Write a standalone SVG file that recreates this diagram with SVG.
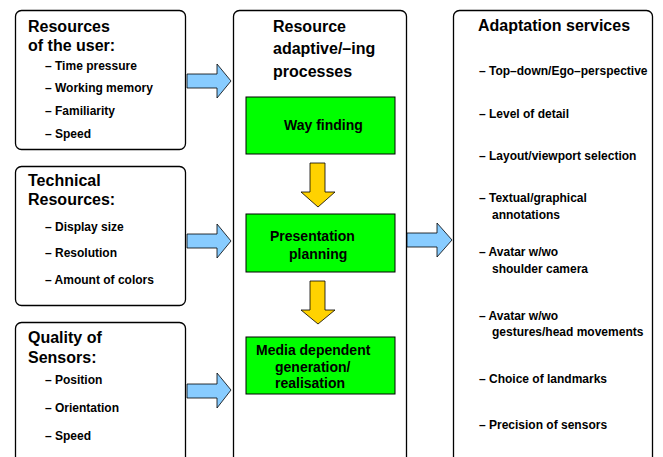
<svg xmlns="http://www.w3.org/2000/svg" width="663" height="457" viewBox="0 0 663 457">
<style>
.box{fill:#fff;stroke:#000;stroke-width:1.3}
.green{fill:#00ff00;stroke:#000;stroke-width:1}
.blue{fill:#88ccff;stroke:#000;stroke-width:0.8}
.yellow{fill:#ffd200;stroke:#000;stroke-width:0.8}
text{font-family:"Liberation Sans",Arial,sans-serif;font-weight:bold;fill:#000}
.t{font-size:16px}
.i{font-size:12px}
.g{font-size:14px}
</style>
<rect width="663" height="457" fill="#fff"/>
<g id="user">
<rect class="box" x="15.5" y="10.5" width="170" height="139" rx="6"/>
<text class="t" x="28" y="32">Resources</text>
<text class="t" x="28" y="51">of the user:</text>
<text class="i" x="45" y="70">– Time pressure</text>
<text class="i" x="45" y="92">– Working memory</text>
<text class="i" x="45" y="115">– Familiarity</text>
<text class="i" x="45" y="138">– Speed</text>
</g>
<g id="technical">
<rect class="box" x="15.5" y="166.5" width="170" height="139" rx="6"/>
<text class="t" x="28" y="186">Technical</text>
<text class="t" x="28" y="205">Resources:</text>
<text class="i" x="45" y="231">– Display size</text>
<text class="i" x="45" y="257">– Resolution</text>
<text class="i" x="45" y="284">– Amount of colors</text>
</g>
<g id="sensors">
<rect class="box" x="15.5" y="322.5" width="170" height="150" rx="6"/>
<text class="t" x="28" y="343">Quality of</text>
<text class="t" x="28" y="363">Sensors:</text>
<text class="i" x="45" y="384">– Position</text>
<text class="i" x="45" y="412">– Orientation</text>
<text class="i" x="45" y="440">– Speed</text>
</g>
<g id="processes">
<rect class="box" x="233.5" y="10.5" width="173" height="465" rx="6"/>
<text class="t" x="273" y="32">Resource</text>
<text class="t" x="273" y="54">adaptive/–ing</text>
<text class="t" x="273" y="77">processes</text>
</g>
<g id="wayfinding">
<rect class="green" x="246" y="97" width="149" height="57"/>
<text class="g" x="284" y="130">Way finding</text>
</g>
<g id="presentation">
<rect class="green" x="246" y="214" width="149" height="58"/>
<text class="g" x="270" y="241">Presentation</text>
<text class="g" x="289" y="259">planning</text>
</g>
<g id="media">
<rect class="green" x="246" y="337" width="149" height="57"/>
<text class="g" x="256" y="355">Media dependent</text>
<text class="g" x="275" y="372">generation/</text>
<text class="g" x="275" y="388">realisation</text>
</g>
<g id="services">
<rect class="box" x="453.5" y="10.5" width="199" height="465" rx="6"/>
<text class="t" x="478" y="31">Adaptation services</text>
<text class="i" x="479" y="75">– Top–down/Ego–perspective</text>
<text class="i" x="479" y="118">– Level of detail</text>
<text class="i" x="479" y="160">– Layout/viewport selection</text>
<text class="i" x="479" y="202">– Textual/graphical</text>
<text class="i" x="492" y="219">annotations</text>
<text class="i" x="479" y="256">– Avatar w/wo</text>
<text class="i" x="492" y="273">shoulder camera</text>
<text class="i" x="479" y="320">– Avatar w/wo</text>
<text class="i" x="492" y="336">gestures/head movements</text>
<text class="i" x="479" y="383">– Choice of landmarks</text>
<text class="i" x="479" y="429">– Precision of sensors</text>
</g>
<g id="connectors">
<polygon class="blue" points="187,74 217,74 217,64 231,81 217,98 217,88 187,88"/>
<polygon class="blue" points="187,234 217,234 217,224 231,241 217,258 217,248 187,248"/>
<polygon class="blue" points="187,384 217,384 217,373 231,390 217,408 217,398 187,398"/>
<polygon class="blue" points="407,233 437,233 437,223 452,240 437,257 437,247 407,247"/>
<polygon class="yellow" points="310,163 325,163 325,192 335,192 318,207 301,192 310,192"/>
<polygon class="yellow" points="310,281 325,281 325,310 335,310 318,324 301,310 310,310"/>
</g>
</svg>
